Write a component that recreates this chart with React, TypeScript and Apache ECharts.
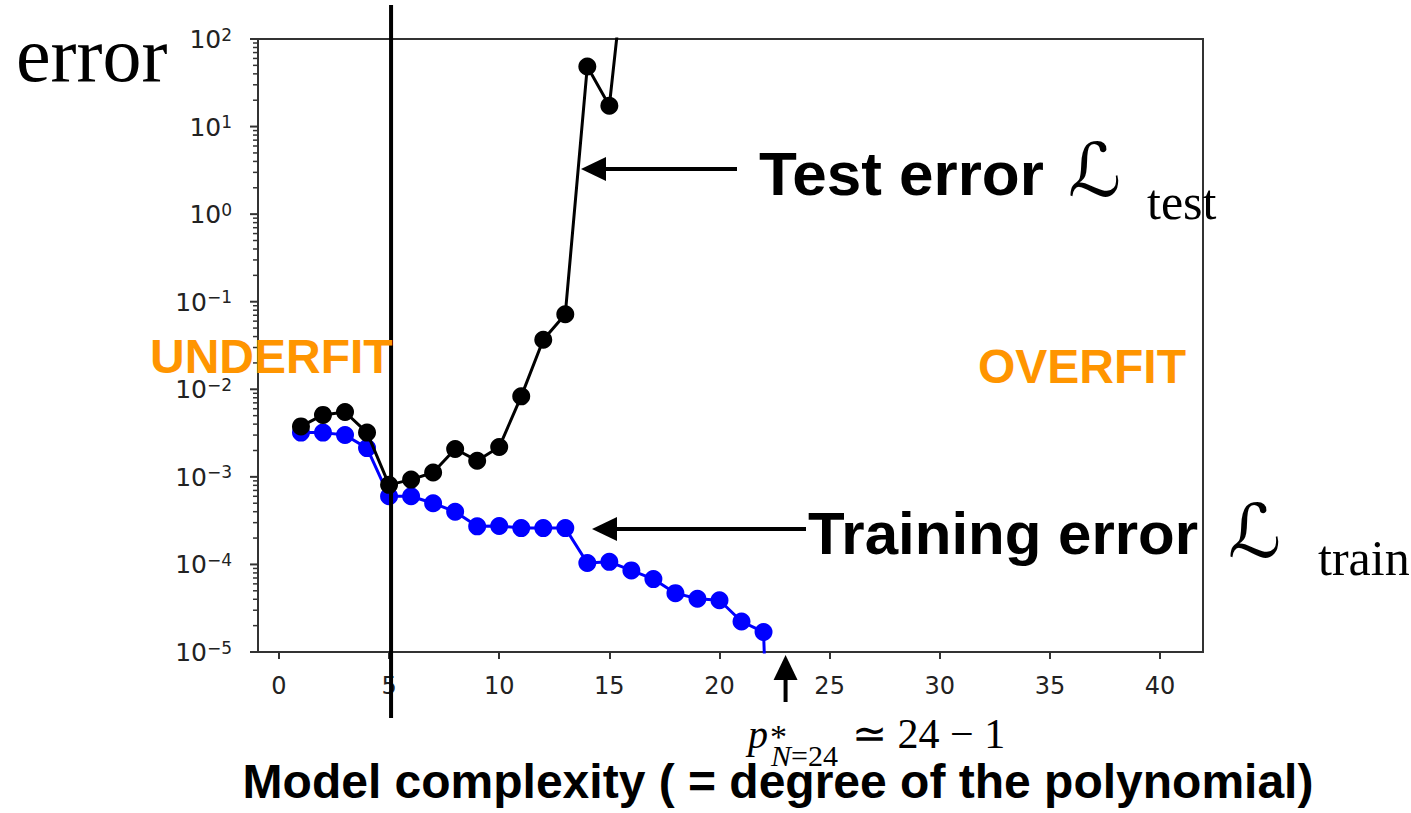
import React, { useEffect, useRef } from "react";
import * as echarts from "echarts";

// Polynomial degree for each fitted model
const degreesTrain = [1, 2, 3, 4, 5, 6, 7, 8, 9, 10, 11, 12, 13, 14, 15, 16, 17, 18, 19, 20, 21, 22, 23];
const degreesTest = [1, 2, 3, 4, 5, 6, 7, 8, 9, 10, 11, 12, 13, 14, 15, 16];

// Mean squared error on the training set (drops to ~0 once p >= N-1)
const trainError = [
  3.2e-3, 3.2e-3, 3.0e-3, 2.13e-3, 6.0e-4, 6.0e-4, 5.0e-4, 4.0e-4, 2.72e-4, 2.75e-4,
  2.6e-4, 2.6e-4, 2.6e-4, 1.04e-4, 1.07e-4, 8.55e-5, 6.8e-5, 4.7e-5, 4.05e-5, 3.9e-5,
  2.23e-5, 1.69e-5, 1e-12,
];

// Mean squared error on held-out test data
const testError = [
  3.77e-3, 5.1e-3, 5.5e-3, 3.2e-3, 8.1e-4, 9.3e-4, 1.12e-3, 2.08e-3, 1.53e-3, 2.19e-3,
  8.3e-3, 3.68e-2, 7.2e-2, 48.6, 17.3, 3.5e3,
];

const X_MIN = -0.95;
const X_MAX = 41.95;
const xTickValues = [0, 5, 10, 15, 20, 25, 30, 35, 40];
const yDecades = [1e-5, 1e-4, 1e-3, 1e-2, 1e-1, 1, 10, 100];
const yMinorTicks: number[] = [];
for (let e = -5; e < 2; e++) {
  for (let m = 2; m <= 9; m++) yMinorTicks.push(m * Math.pow(10, e));
}

const bestDegree = 23; // p* for N = 24 samples
const chosenDegree = 5;

const ORANGE = "#ff9500";
const AXIS = "#333";
const SANS = '"Liberation Sans", Arial, Helvetica, sans-serif';
const SERIF = '"Liberation Serif", "Times New Roman", serif';
const SCRIPT = '"DejaVu Serif", "DejaVu Sans", serif';
const TICK_FONT = '"DejaVu Sans", sans-serif';

const powLabel = (v: number) => {
  const e = Math.round(Math.log10(v));
  return `{b|10}{s|${String(e).replace("-", "−")}}`;
};

function arrow(x1: number, y1: number, x2: number, y2: number) {
  // shaft from (x1,y1) to the tip at (x2,y2)
  const dx = x2 - x1;
  const dy = y2 - y1;
  const len = Math.hypot(dx, dy);
  const ux = dx / len;
  const uy = dy / len;
  const headLen = 25;
  const headHalf = 12;
  const bx = x2 - ux * headLen;
  const by = y2 - uy * headLen;
  return {
    type: "group",
    z: 100,
    children: [
      {
        type: "line",
        shape: { x1, y1, x2: bx + ux * 2, y2: by + uy * 2 },
        style: { stroke: "#000", lineWidth: 4 },
      },
      {
        type: "polygon",
        shape: {
          points: [
            [x2, y2],
            [bx - uy * headHalf, by + ux * headHalf],
            [bx + uy * headHalf, by - ux * headHalf],
          ],
        },
        style: { fill: "#000" },
      },
    ],
  };
}

function label(
  text: string,
  x: number,
  y: number,
  size: number,
  family: string,
  opts: { weight?: string; style?: string; color?: string; align?: string; lineHeight?: number } = {}
) {
  const align = opts.align || "left";
  return {
    type: "text",
    x,
    y,
    z: 100,
    style: {
      text,
      fill: opts.color || "#000",
      fontSize: size,
      fontFamily: family,
      fontWeight: opts.weight || "normal",
      fontStyle: opts.style || "normal",
      lineHeight: opts.lineHeight,
      align,
      textAlign: align,
      verticalAlign: "middle",
      textVerticalAlign: "middle",
    },
  };
}

export default function App() {
  const ref = useRef<HTMLDivElement>(null);

  useEffect(() => {
    if (!ref.current) return;
    const chart = echarts.init(ref.current, undefined, { renderer: "svg" });

    // log-axis tick marks: decades (long) plus 2..9 minor ticks (short)
    const yTickData = [
      ...yDecades.map((v) => [X_MIN, v, 8, 2]),
      ...yMinorTicks.map((v) => [X_MIN, v, 5, 1.5]),
    ];

    chart.setOption({
      animation: false,
      backgroundColor: "#fff",
      grid: {
        left: 258,
        right: 208,
        top: 39,
        bottom: 161,
        show: true,
        borderColor: AXIS,
        borderWidth: 2,
        backgroundColor: "transparent",
      },
      xAxis: {
        type: "value",
        min: X_MIN,
        max: X_MAX,
        axisLine: { show: false, onZero: false },
        splitLine: { show: false },
        axisTick: {
          show: true,
          customValues: xTickValues,
          length: 7,
          lineStyle: { color: AXIS, width: 2 },
        },
        axisLabel: {
          customValues: xTickValues,
          margin: 22,
          color: "#222",
          fontSize: 24,
          fontFamily: TICK_FONT,
        },
      },
      yAxis: {
        type: "log",
        logBase: 10,
        min: 1e-5,
        max: 1e2,
        axisLine: { show: false, onZero: false },
        splitLine: { show: false },
        axisTick: { show: false },
        axisLabel: {
          customValues: yDecades,
          margin: 26,
          color: "#222",
          formatter: (v: number) => powLabel(v),
          rich: {
            b: {
              fontSize: 25,
              fontFamily: TICK_FONT,
              color: "#222",
              lineHeight: 26,
              verticalAlign: "bottom",
            },
            s: {
              fontSize: 17,
              fontFamily: TICK_FONT,
              color: "#222",
              lineHeight: 14,
              verticalAlign: "top",
            },
          },
        },
      },
      series: [
        {
          name: "yTicks",
          type: "custom",
          silent: true,
          clip: false,
          encode: { x: 0, y: 1 },
          data: yTickData,
          z: 1,
          renderItem: (params: any, api: any) => {
            const p = api.coord([api.value(0), api.value(1)]);
            const len = api.value(2);
            return {
              type: "line",
              shape: { x1: p[0] - len, y1: p[1], x2: p[0], y2: p[1] },
              style: { stroke: AXIS, lineWidth: api.value(3) },
            };
          },
        },
        {
          name: "train",
          type: "line",
          data: degreesTrain.map((d, i) => [d, trainError[i]]),
          symbol: "circle",
          symbolSize: 18,
          clip: true,
          itemStyle: { color: "#0000ff" },
          lineStyle: { color: "#0000ff", width: 3 },
          z: 2,
        },
        {
          name: "test",
          type: "line",
          data: degreesTest.map((d, i) => [d, testError[i]]),
          symbol: "circle",
          symbolSize: 18,
          clip: true,
          itemStyle: { color: "#000" },
          lineStyle: { color: "#000", width: 3 },
          z: 3,
        },
      ],
    });

    const px = (v: number) => chart.convertToPixel({ xAxisIndex: 0 }, v) as number;
    const py = (v: number) => chart.convertToPixel({ yAxisIndex: 0 }, v) as number;
    const vx = px(chosenDegree);
    const ax = px(bestDegree);
    const yBottom = py(1e-5);

    chart.setOption({
      graphic: [
        {
          type: "line",
          z: 100,
          shape: { x1: vx + 2, y1: 5, x2: vx + 2, y2: 718 },
          style: { stroke: "#000", lineWidth: 4 },
        },
        arrow(737, 169, 581, 169),
        arrow(806, 529, 592, 529),
        arrow(ax, yBottom + 50, ax, yBottom + 3),
        label("error", 16, 54, 78, SERIF),
        label("UNDERFIT", 150, 356, 48, SANS, { weight: "bold", color: ORANGE }),
        label("OVERFIT", 978, 366, 48, SANS, { weight: "bold", color: ORANGE }),
        label("Test error", 759, 173, 62, SANS, { weight: "bold" }),
        label("ℒ", 1068, 170, 74, SCRIPT, { style: "italic" }),
        label("test", 1147, 202, 50, SERIF),
        label("Training error", 808, 533, 60, SANS, { weight: "bold" }),
        label("ℒ", 1228, 531, 74, SCRIPT, { style: "italic" }),
        label("train", 1318, 558, 50, SERIF),
        label("p", 748, 734, 40, SERIF, { style: "italic", lineHeight: 36 }),
        label("*", 770, 736, 34, SERIF, { lineHeight: 16 }),
        {
          type: "text",
          x: 771,
          y: 755,
          z: 100,
          style: {
            text: "{i|N}{u|=24}",
            align: "left",
            textAlign: "left",
            verticalAlign: "middle",
            textVerticalAlign: "middle",
            rich: {
              i: { fontSize: 30, lineHeight: 16, fontFamily: SERIF, fontStyle: "italic", fill: "#000" },
              u: { fontSize: 30, lineHeight: 16, fontFamily: SERIF, fill: "#000" },
            },
          },
        },
        label("≃ 24 − 1", 852, 734, 42, SERIF),
        label("Model complexity ( = degree of the polynomial)", 778, 781, 48, SANS, {
          weight: "bold",
          align: "center",
          lineHeight: 36,
        }),
      ],
    });

    return () => chart.dispose();
  }, []);

  return (
    <div
      ref={ref}
      style={{ position: "fixed", left: 0, top: 0, width: 1411, height: 813, background: "#fff" }}
    />
  );
}
